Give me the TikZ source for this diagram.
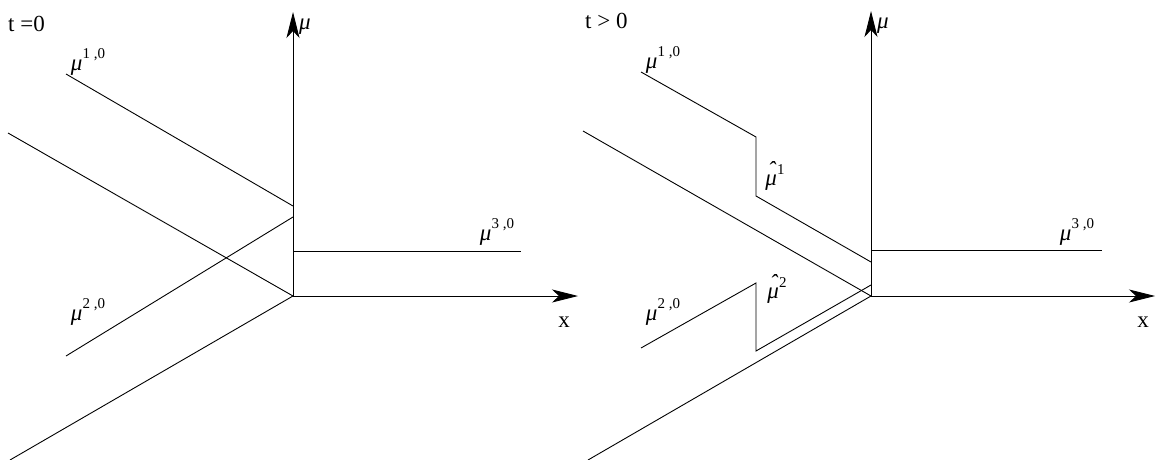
\documentclass[tikz,border=0pt]{standalone}
\usepackage{fontspec}
\setmainfont{Liberation Serif}
\usetikzlibrary{arrows.meta}
\newcommand{\mylab}[2]{\textit{#1}\raisebox{0.5em}{\fontsize{15}{16}\selectfont #2}}
\newcommand{\hatmu}{\makebox[0pt][l]{\hspace{0.1em}\raisebox{0.36em}{ˆ}}\textit{μ}}
\begin{document}
\begin{tikzpicture}[x=1pt,y=-1pt,
  ln/.style={line width=0.9pt, line join=miter},
  axis/.style={line width=0.9pt, -{Stealth[length=26pt,width=13pt,inset=7pt]}},
  lab/.style={inner sep=0pt, font=\fontsize{23}{25}\selectfont}]
\useasboundingbox (0,0) rectangle (1156,460);
% ---------- left panel ----------
\coordinate (O1) at (293,296);
\coordinate (Y1) at (293,12);
\coordinate (X1) at (578,296);
\coordinate (a1) at (66,74);   \coordinate (a2) at (293,206);
\coordinate (b1) at (8,133);
\coordinate (c1) at (66,356);  \coordinate (c2) at (293,217);
\coordinate (d1) at (10,460);
\coordinate (e1) at (293,251); \coordinate (e2) at (521,251);
\draw[axis] (O1) -- (Y1);
\draw[axis] (O1) -- (X1);
\draw[ln] (a1) -- (a2);
\draw[ln] (b1) -- (O1);
\draw[ln] (c1) -- (c2);
\draw[ln] (d1) -- (O1);
\draw[ln] (e1) -- (e2);
\node[lab, anchor=west] (t0) at (8,24) {t =0};
\node[lab] (l1) at (88,62) {\mylab{μ}{1 ,0}};
\node[lab] (l2) at (88,312) {\mylab{μ}{2 ,0}};
\node[lab] (l3) at (497,232) {\mylab{μ}{3 ,0}};
\node[lab] (mu1) at (305,27) {\textit{μ}};
\node[lab] (x1) at (564,322) {x};
% ---------- right panel ----------
\coordinate (O2) at (871,296);
\coordinate (Y2) at (871,11);
\coordinate (X2) at (1155,296);
\coordinate (p1) at (641,72);  \coordinate (p2) at (756,137);
\coordinate (p3) at (756,196); \coordinate (p4) at (871,262);
\coordinate (q1) at (583,131);
\coordinate (r1) at (641,348); \coordinate (r2) at (756,283);
\coordinate (r3) at (756,351); \coordinate (r4) at (871,285);
\coordinate (s1) at (588,460);
\coordinate (u1) at (871,250); \coordinate (u2) at (1102,250);
\draw[axis] (O2) -- (Y2);
\draw[axis] (O2) -- (X2);
\draw[ln] (p1) -- (p2) -- (p3) -- (p4);
\draw[ln] (q1) -- (O2);
\draw[ln] (r1) -- (r2) -- (r3) -- (r4);
\draw[ln] (s1) -- (O2);
\draw[ln] (u1) -- (u2);
\node[lab, anchor=west] (tp) at (585,21) {t > 0};
\node[lab] (m1) at (663,60) {\mylab{μ}{1 ,0}};
\node[lab] (m2) at (663,312) {\mylab{μ}{2 ,0}};
\node[lab] (m3) at (1077,232) {\mylab{μ}{3 ,0}};
\node[lab] (h1) at (775,176) {\mylab{\hatmu}{1}};
\node[lab] (h2) at (777,289) {\mylab{\hatmu}{2}};
\node[lab] (mu2) at (883,26) {\textit{μ}};
\node[lab] (x2) at (1143,322) {x};
\end{tikzpicture}
\end{document}
